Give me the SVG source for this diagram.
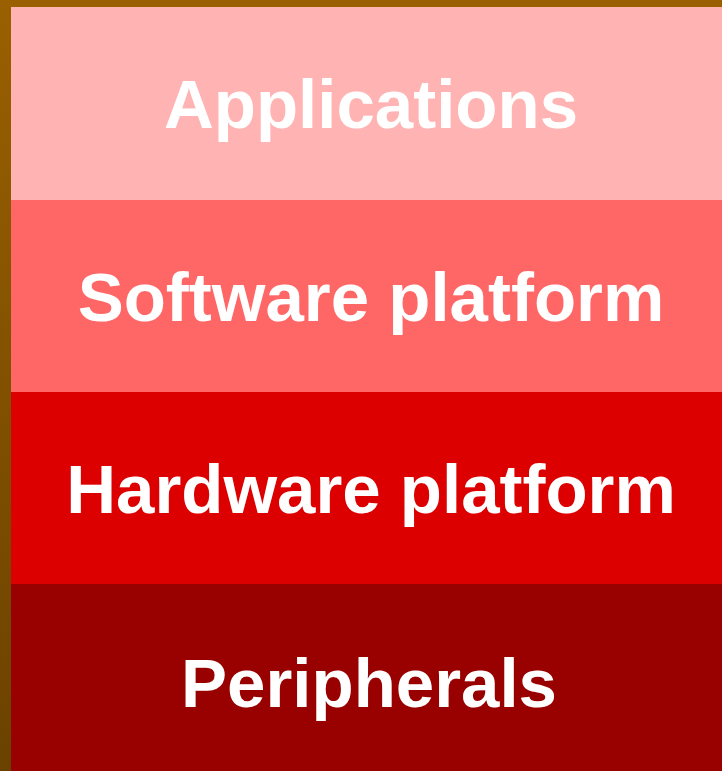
<svg xmlns="http://www.w3.org/2000/svg" width="722" height="771" viewBox="0 0 722 771">
<defs>
<linearGradient id="bar" x1="0" y1="0" x2="0" y2="1">
<stop offset="0" stop-color="#9a6000"/>
<stop offset="1" stop-color="#6a4200"/>
</linearGradient>
</defs>
<style>
.t{font-family:"Liberation Sans",Arial,sans-serif;font-weight:bold;font-size:69px;fill:#ffffff;text-anchor:middle}
</style>
<rect x="0" y="0" width="722" height="771" fill="url(#bar)"/>
<rect x="11" y="0" width="711" height="7" fill="#9a6000"/>
<g id="applications"><rect x="11" y="7" width="711" height="193" fill="#ffb3b3"/><text class="t" x="371" y="128">Applications</text></g>
<g id="software"><rect x="11" y="200" width="711" height="192" fill="#ff6666"/><text class="t" x="371" y="321">Software platform</text></g>
<g id="hardware"><rect x="11" y="392" width="711" height="192" fill="#dd0000"/><text class="t" x="371" y="513">Hardware platform</text></g>
<g id="peripherals"><rect x="11" y="584" width="711" height="187" fill="#990000"/><text class="t" x="369" y="707">Peripherals</text></g>
<g id="connectors"/>
</svg>
